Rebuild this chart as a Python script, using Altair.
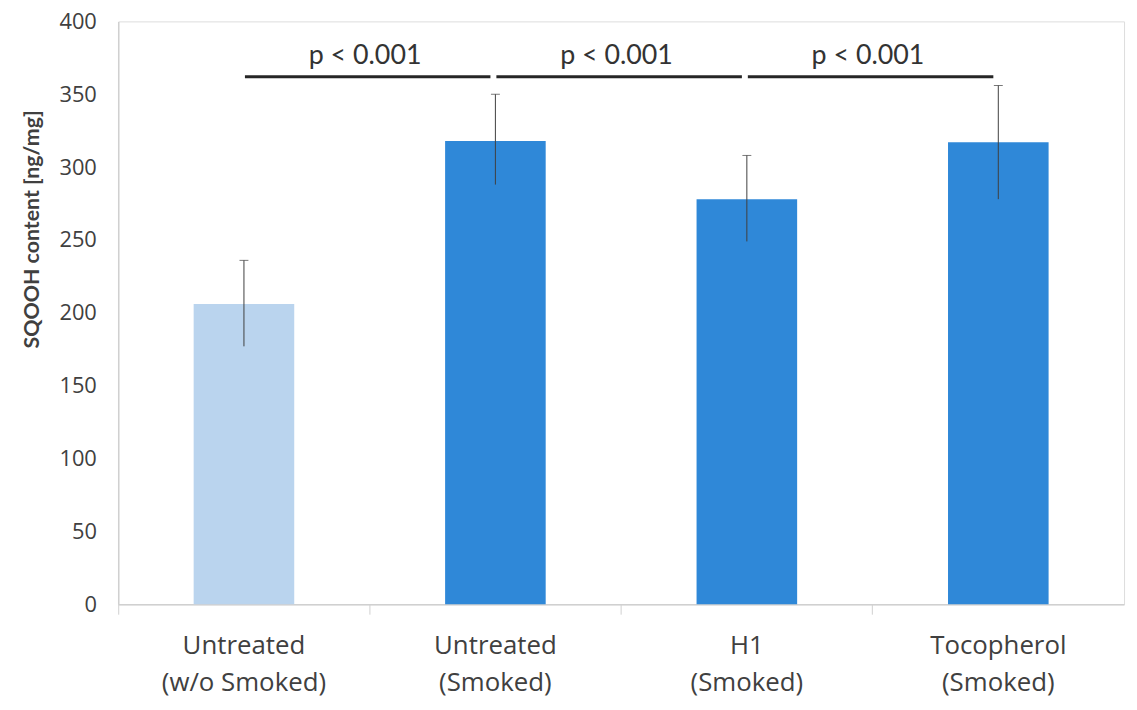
import altair as alt
import pandas as pd

# ---- data ----
categories = ["Untreated|(w/o Smoked)", "Untreated|(Smoked)", "H1|(Smoked)", "Tocopherol|(Smoked)"]
means = [206, 318, 278, 317]
err_low = [177, 288, 249, 278]
err_high = [236, 350, 308, 356]
bar_colors = ["#BAD4EE", "#2F88D8", "#2F88D8", "#2F88D8"]

sig_from = ["Untreated|(w/o Smoked)", "Untreated|(Smoked)", "H1|(Smoked)"]
sig_to = ["Untreated|(Smoked)", "H1|(Smoked)", "Tocopherol|(Smoked)"]
sig_level = [362, 362, 362]
sig_text_level = [376, 376, 376]
sig_labels = ["p < 0.001", "p < 0.001", "p < 0.001"]

y_ticks = [0, 50, 100, 150, 200, 250, 300, 350, 400]

df = pd.DataFrame({"cat": categories, "mean": means, "lo": err_low, "hi": err_high, "color": bar_colors})
sig = pd.DataFrame({"a": sig_from, "b": sig_to, "y": sig_level, "ty": sig_text_level, "label": sig_labels})

W, H = 1013, 587
xscale = alt.Scale(domain=categories, paddingInner=0, paddingOuter=0)
yscale = alt.Scale(domain=[0, 400])

x_axis = alt.Axis(
    title=None, labelExpr="split(datum.label, '|')", labelAngle=0,
    labelFont="Open Sans", labelFontSize=26, labelColor="#404040", labelPadding=19,
    labelLineHeight=37, bandPosition=0, ticks=True, tickSize=10, tickColor="#d0d0d0",
    domainColor="#d0d0d0", domainWidth=1.5, grid=False,
)
y_axis = alt.Axis(
    title="SQOOH content [ng/mg]", values=y_ticks, grid=False, ticks=False,
    labelFont="Open Sans", labelFontSize=22, labelColor="#404040", labelPadding=22,
    domainColor="#d0d0d0", domainWidth=1.5,
    titleFont="Lato", titleFontSize=21.5, titleFontWeight="bold", titleColor="#404040",
    titleAngle=-90, titleX=-86, titleY=209, titleAlign="center", titleBaseline="middle",
)

base = alt.Chart(df)
bars = base.mark_bar(width=alt.RelativeBandSize(0.4)).encode(
    x=alt.X("cat:N", scale=xscale, axis=x_axis, sort=categories),
    y=alt.Y("mean:Q", scale=yscale, axis=y_axis),
    color=alt.Color("color:N", scale=None),
)
err = base.mark_rule(color="#404040", strokeWidth=1).encode(
    x=alt.X("cat:N", scale=xscale, sort=categories),
    y=alt.Y("lo:Q", scale=yscale),
    y2="hi:Q",
)
caps = base.mark_tick(color="#404040", thickness=1, size=9).encode(
    x=alt.X("cat:N", scale=xscale, sort=categories),
    y=alt.Y("hi:Q", scale=yscale),
)
sig_base = alt.Chart(sig)
sig_lines = sig_base.mark_rule(color="#262626", strokeWidth=3, xOffset=1, x2Offset=-5).encode(
    x=alt.X("a:N", scale=xscale, sort=categories),
    x2="b:N",
    y=alt.Y("y:Q", scale=yscale),
)
sig_text = sig_base.mark_text(font="Lato", fontSize=27, color="#333333", dx=122, baseline="middle").encode(
    x=alt.X("a:N", scale=xscale, sort=categories),
    y=alt.Y("ty:Q", scale=yscale),
    text="label:N",
)

chart = alt.layer(bars, err, caps, sig_lines, sig_text).properties(
    width=W, height=H,
    autosize=alt.AutoSizeParams(type="none"),
    padding={"left": 111, "top": 11, "right": 5, "bottom": 100},
).configure_view(stroke=None).configure(background="white")

chart.save("out.html", embed_options={"renderer": "svg", "actions": False})
